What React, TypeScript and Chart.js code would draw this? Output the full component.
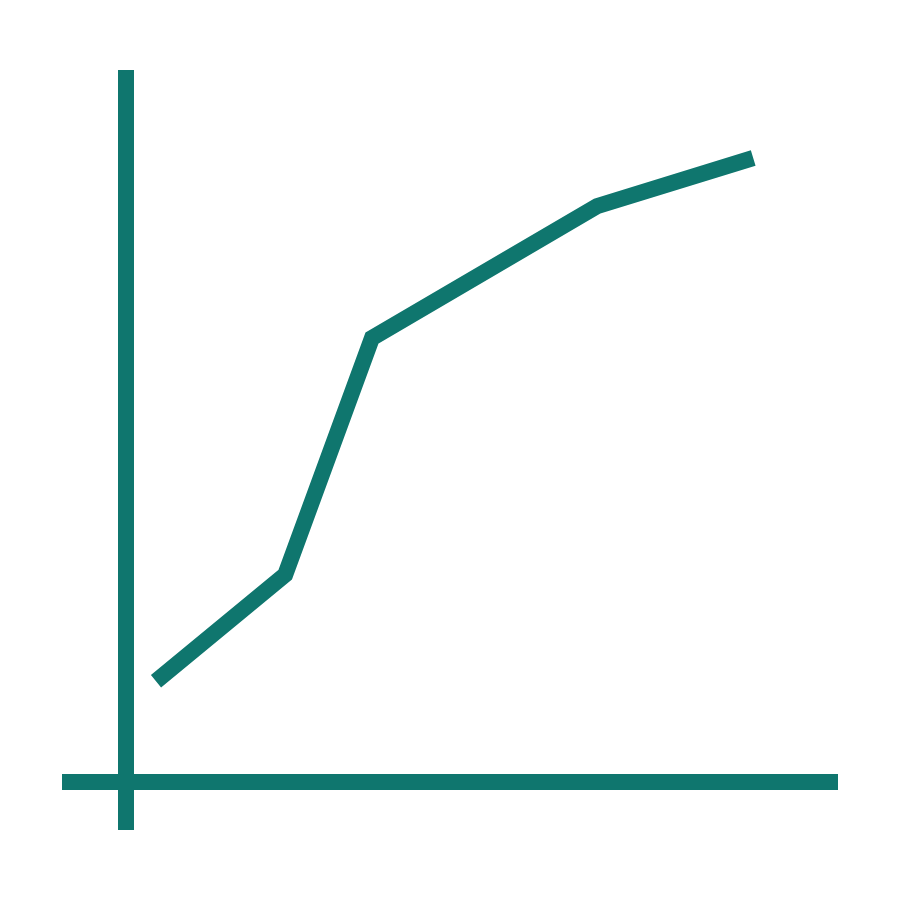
import { useEffect, useRef } from "react";
import { Chart, registerables, Plugin } from "chart.js";

Chart.register(...registerables);

// Line points (arbitrary units; origin is where the axes cross)
const xValues = [3.75, 19.9, 30.75, 58.9, 78.4];
const yValues = [12.6, 25.9, 55.5, 72, 78];

const TEAL = "#0f766e";

// draws the two crossing axis lines through value 0 on each scale
const crossAxes: Plugin<"line"> = {
  id: "crossAxes",
  beforeDatasetsDraw(chart) {
    const { ctx, chartArea, scales } = chart;
    const x0 = scales.x.getPixelForValue(0);
    const y0 = scales.y.getPixelForValue(0);
    ctx.save();
    ctx.strokeStyle = TEAL;
    ctx.lineWidth = 16;
    ctx.lineCap = "butt";
    ctx.beginPath();
    ctx.moveTo(x0, chartArea.top);
    ctx.lineTo(x0, chartArea.bottom);
    ctx.moveTo(chartArea.left, y0);
    ctx.lineTo(chartArea.right, y0);
    ctx.stroke();
    ctx.restore();
  },
};

export default function App() {
  const canvasRef = useRef<HTMLCanvasElement | null>(null);

  useEffect(() => {
    if (!canvasRef.current) return;

    const chart = new Chart(canvasRef.current, {
      type: "line",
      data: {
        datasets: [
          {
            data: xValues.map((x, i) => ({ x, y: yValues[i] })),
            borderColor: TEAL,
            borderWidth: 16,
            borderJoinStyle: "miter",
            borderCapStyle: "butt",
            pointRadius: 0,
            tension: 0,
            fill: false,
          },
        ],
      },
      options: {
        animation: false,
        responsive: false,
        maintainAspectRatio: false,
        layout: { padding: { left: 62, right: 62, top: 70, bottom: 70 } },
        plugins: {
          legend: { display: false },
          tooltip: { enabled: false },
        },
        scales: {
          x: { type: "linear", min: -8, max: 89, display: false },
          y: { type: "linear", min: -6, max: 89, display: false },
        },
      },
      plugins: [crossAxes],
    });

    return () => {
      chart.destroy();
    };
  }, []);

  return (
    <div
      style={{
        position: "fixed",
        left: 0,
        top: 0,
        width: 900,
        height: 900,
        background: "#fff",
      }}
    >
      <canvas ref={canvasRef} width={900} height={900} style={{ width: 900, height: 900 }} />
    </div>
  );
}
